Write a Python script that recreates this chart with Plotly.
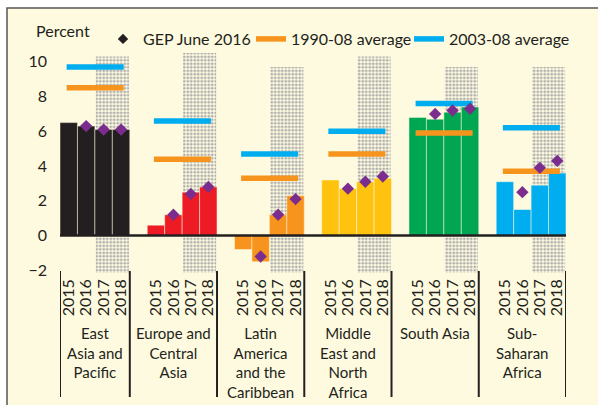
import plotly.graph_objects as go

regions = ["East<br>Asia and<br>Pacific", "Europe and<br>Central<br>Asia",
           "Latin<br>America<br>and the<br>Caribbean", "Middle<br>East and<br>North<br>Africa",
           "South Asia", "Sub-<br>Saharan<br>Africa"]
years = ["2015", "2016", "2017", "2018"]

# growth, percent (2015 actual, 2016 estimate, 2017-18 forecast)
growth = [
    [6.5, 6.3, 6.1, 6.1],
    [0.6, 1.2, 2.5, 2.8],
    [-0.8, -1.5, 1.2, 2.3],
    [3.2, 2.7, 3.1, 3.3],
    [6.8, 6.7, 7.1, 7.4],
    [3.1, 1.5, 2.9, 3.6],
]
# GEP June 2016 forecasts for 2016, 2017, 2018
gep_june2016 = [
    [6.3, 6.1, 6.1],
    [1.2, 2.4, 2.8],
    [-1.2, 1.2, 2.1],
    [2.7, 3.1, 3.4],
    [7.0, 7.2, 7.3],
    [2.5, 3.9, 4.3],
]
avg_1990_08 = [8.5, 4.4, 3.3, 4.7, 5.9, 3.7]
avg_2003_08 = [9.7, 6.6, 4.7, 6.0, 7.6, 6.2]
# height of the dotted forecast-period shading
shade_top = [10.3, 10.5, 9.7, 10.3, 9.7, 9.7]

bar_colors = ["#231F20", "#ED1C24", "#F7941D", "#FFC20E", "#00A651", "#00AEEF"]
BG = "#FEFADF"
INK = "#231F20"

# each region takes 5 slots on the x axis (4 years + a blank one)
def slot(r, j):
    return 5 * r + j

bx, by, bc = [], [], []
for r, vals in enumerate(growth):
    for j, v in enumerate(vals):
        bx.append(slot(r, j))
        by.append(v)
        bc.append(bar_colors[r])

dx, dy = [], []
for r, vals in enumerate(gep_june2016):
    for j, v in enumerate(vals):
        dx.append(slot(r, j + 1))
        dy.append(v)

def avg_line(vals):
    xs, ys = [], []
    for r, v in enumerate(vals):
        xs += [slot(r, 0) - 0.12, slot(r, 3) + 0.15, None]
        ys += [v, v, None]
    return xs, ys

fig = go.Figure()

# dotted shading behind 2017-2018
fig.add_trace(go.Bar(
    x=[slot(r, 2.5) for r in range(len(regions))],
    y=[t + 2.15 for t in shade_top], base=-2.15, width=1.9,
    marker=dict(color="#ADADAD", line=dict(width=0),
                pattern=dict(shape=".", fillmode="replace", size=3.5, solidity=0.5)),
    showlegend=False, hoverinfo="skip", cliponaxis=False,
))

fig.add_trace(go.Bar(
    x=bx, y=by, width=1, marker=dict(color=bc, line=dict(width=0.5, color=BG)),
    showlegend=False,
))

# legend entry (black diamond)
fig.add_trace(go.Scatter(x=[None], y=[None], mode="markers", name="GEP June 2016",
                         marker=dict(symbol="diamond", size=8, color=INK), legend="legend"))

xo, yo = avg_line(avg_1990_08)
fig.add_trace(go.Scatter(x=xo, y=yo, mode="lines", name="1990-08 average",
                         line=dict(color="#F7941D", width=5.5), legend="legend2"))
xb, yb = avg_line(avg_2003_08)
fig.add_trace(go.Scatter(x=xb, y=yb, mode="lines", name="2003-08 average",
                         line=dict(color="#00AEEF", width=5.5), legend="legend3"))

fig.add_trace(go.Scatter(x=dx, y=dy, mode="markers", showlegend=False,
                         marker=dict(symbol="diamond", size=9.5, color="#7B2D8E")))

L, R, T, B = 60, 32, 27, 132
W, H = 598, 405
pw, ph = W - L - R, H - T - B

def px_x(p):
    return (p - L) / pw

def px_y(p):
    return (H - B - p) / ph

def legend_at(text_px):
    return dict(orientation="h", x=px_x(text_px - 38), y=px_y(22), xanchor="left", yanchor="top",
                bgcolor="rgba(0,0,0,0)", font=dict(size=16), itemwidth=30)

shapes = [
    # chart background with frame
    dict(type="rect", xref="paper", yref="paper", x0=px_x(7), x1=px_x(610), y0=px_y(8), y1=px_y(420),
         fillcolor=BG, line=dict(color="#555555", width=1.5), layer="below"),
    # zero line
    dict(type="line", xref="x", yref="y", x0=-0.5, x1=28.5, y0=0, y1=0,
         line=dict(color=INK, width=2.5), layer="above"),
]
seps = [-0.5] + [5 * r - 1.5 for r in range(1, len(regions) + 1)]
for s in seps:
    shapes.append(dict(type="line", xref="x", yref="paper", x0=s, x1=s, y0=px_y(271), y1=px_y(397),
                       line=dict(color=INK, width=2)))

annotations = [dict(text="Percent", xref="paper", yref="paper", x=px_x(34), y=px_y(30),
                    xanchor="left", yanchor="middle", showarrow=False, font=dict(size=16))]
for r, name in enumerate(regions):
    annotations.append(dict(text=name, xref="x", yref="paper", x=(seps[r] + seps[r + 1]) / 2,
                            y=px_y(322), xanchor="center", yanchor="top", showarrow=False,
                            font=dict(size=15), align="center"))

fig.update_layout(
    width=W, height=H,
    margin=dict(l=L, r=R, t=T, b=B),
    paper_bgcolor="white", plot_bgcolor="rgba(0,0,0,0)",
    barmode="overlay",
    font=dict(family="Lato", size=15, color=INK),
    legend=legend_at(141), legend2=legend_at(289), legend3=legend_at(447),
    shapes=shapes, annotations=annotations,
    xaxis=dict(range=[-0.5, 28.5], tickvals=[slot(r, j) for r in range(len(regions)) for j in range(4)],
               ticktext=years * len(regions), tickangle=-90, ticks="", showgrid=False, zeroline=False,
               showline=False, tickfont=dict(size=16), ticklabelstandoff=2),
    yaxis=dict(range=[-2.15, 12], tickvals=[-2, 0, 2, 4, 6, 8, 10], ticks="", showgrid=False,
               zeroline=False, showline=False, tickfont=dict(size=16), ticklabelstandoff=12),
)

fig.write_html("out.html", config={"displayModeBar": False},
               post_script="document.body.style.margin='0';")
